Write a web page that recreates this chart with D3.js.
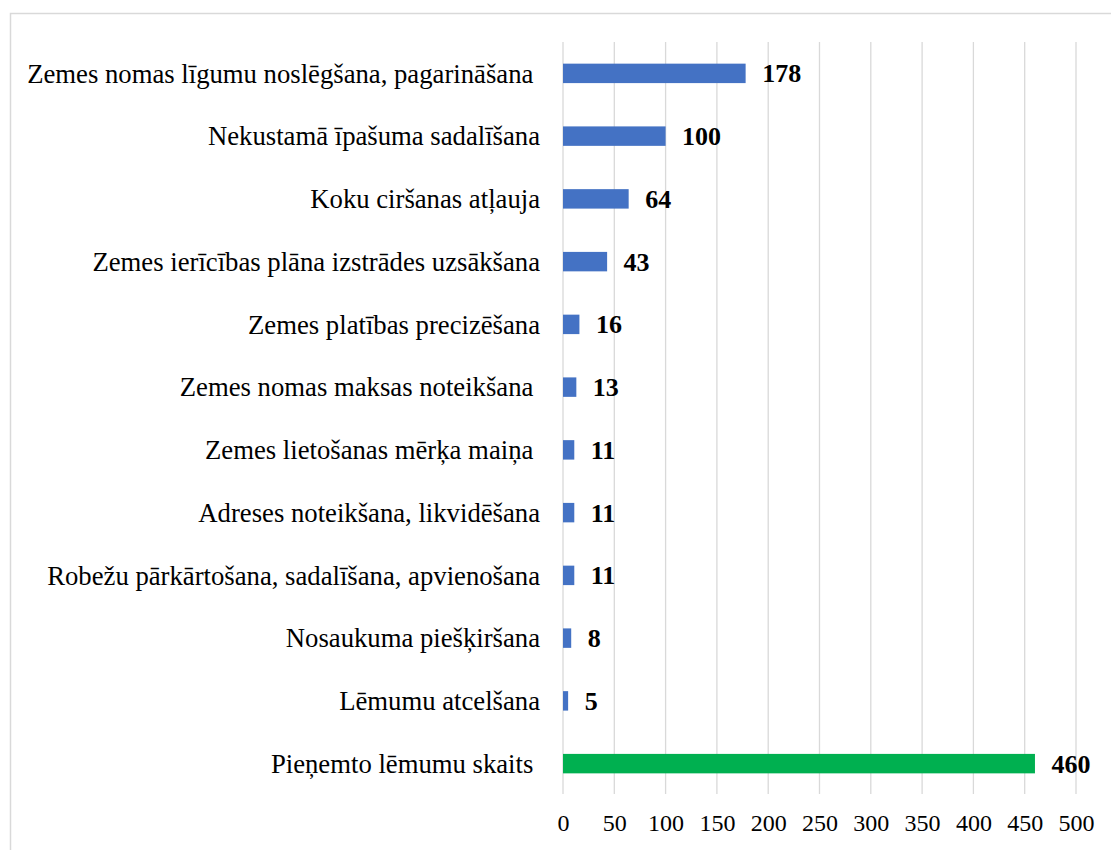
<!DOCTYPE html>
<html>
  <head>
    <meta charset="utf-8">
    <style>
    body {
      margin: 0;
      background: #fff;
    }
    svg text {
      font-family: "Liberation Serif", "Times New Roman", serif;
      white-space: pre;
    }
    </style>
  </head>
  <body>
    <script src="https://cdnjs.cloudflare.com/ajax/libs/d3/7.8.5/d3.min.js"></script>
    <script>
    var width = 1111, height = 850;

    // categories top to bottom, trailing spaces as in the source
    var categories = [
      "Zemes nomas līgumu noslēgšana, pagarināšana ",
      "Nekustamā īpašuma sadalīšana",
      "Koku ciršanas atļauja",
      "Zemes ierīcības plāna izstrādes uzsākšana",
      "Zemes platības precizēšana",
      "Zemes nomas maksas noteikšana ",
      "Zemes lietošanas mērķa maiņa ",
      "Adreses noteikšana, likvidēšana",
      "Robežu pārkārtošana, sadalīšana, apvienošana",
      "Nosaukuma piešķiršana",
      "Lēmumu atcelšana",
      "Pieņemto lēmumu skaits "
    ];
    var values = [178, 100, 64, 43, 16, 13, 11, 11, 11, 8, 5, 460];
    var totalCategory = "Pieņemto lēmumu skaits ";
    var xTicks = [0, 50, 100, 150, 200, 250, 300, 350, 400, 450, 500];

    var rows = categories.map(function(c, i) { return {name: c, value: values[i]}; });

    var svg = d3.select("body").append("svg")
        .attr("width", width)
        .attr("height", height);

    // chart frame, clipped by the window on the right and bottom
    svg.append("rect")
        .attr("x", 10.5)
        .attr("y", 13.5)
        .attr("width", width)
        .attr("height", height)
        .attr("fill", "none")
        .attr("stroke", "#d9d9d9")
        .attr("stroke-width", 1.5);

    var x = d3.scaleLinear().domain([0, 500]).range([563, 1076]);

    var y = d3.scaleBand()
        .domain(categories)
        .range([42, 795])
        .paddingInner(0.69)
        .paddingOuter(0.345);

    // vertical gridlines
    svg.append("g")
        .selectAll("line")
        .data(xTicks)
        .enter().append("line")
        .attr("x1", function(d) { return x(d); })
        .attr("x2", function(d) { return x(d); })
        .attr("y1", 42)
        .attr("y2", 794)
        .attr("stroke", "#d9d9d9")
        .attr("stroke-width", 1.3);

    // x axis labels
    var xAxis = d3.axisBottom(x).tickValues(xTicks).tickSize(0).tickPadding(0);
    var gx = svg.append("g")
        .attr("transform", "translate(0,823)")
        .call(xAxis);
    gx.select(".domain").remove();
    gx.selectAll("text")
        .attr("dy", "0.35em")
        .attr("font-size", 24)
        .attr("font-family", "Liberation Serif")
        .attr("fill", "#000");

    // category labels
    var yAxis = d3.axisLeft(y).tickSize(0).tickPadding(0);
    var gy = svg.append("g")
        .attr("transform", "translate(540,0)")
        .call(yAxis);
    gy.select(".domain").remove();
    gy.selectAll("text")
        .attr("dy", "0.35em")
        .attr("font-size", 26.7)
        .attr("font-family", "Liberation Serif")
        .attr("fill", "#000");

    // bars
    svg.append("g")
        .selectAll("rect")
        .data(rows)
        .enter().append("rect")
        .attr("x", x(0))
        .attr("y", function(d) { return y(d.name); })
        .attr("width", function(d) { return x(d.value) - x(0); })
        .attr("height", y.bandwidth())
        .attr("fill", function(d) { return d.name === totalCategory ? "#00b050" : "#4472c4"; });

    // value labels
    svg.append("g")
        .selectAll("text")
        .data(rows)
        .enter().append("text")
        .attr("x", function(d) { return x(d.value) + 16.5; })
        .attr("y", function(d) { return y(d.name) + y.bandwidth() / 2; })
        .attr("dy", "0.35em")
        .attr("font-size", 26)
        .attr("font-weight", "bold")
        .attr("fill", "#000")
        .text(function(d) { return d.value; });
    </script>
  </body>
</html>
